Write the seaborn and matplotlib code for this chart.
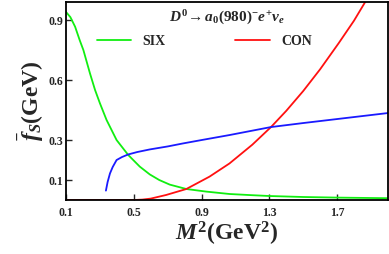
import pandas as pd
import matplotlib
matplotlib.use('Agg')
import matplotlib.pyplot as plt
import seaborn as sns

# --------------------
# Data
# --------------------
six_x = [0.10, 0.125, 0.153, 0.18, 0.202, 0.22, 0.241, 0.271, 0.30, 0.339, 0.398, 0.467,
         0.535, 0.594, 0.65, 0.712, 0.81, 0.928, 1.065, 1.20, 1.30, 1.50, 1.70, 2.00]
six_y = [0.94, 0.915, 0.867, 0.80, 0.75, 0.696, 0.633, 0.55, 0.483, 0.40, 0.30, 0.225,
         0.167, 0.128, 0.10, 0.077, 0.055, 0.042, 0.030, 0.024, 0.020, 0.015, 0.012, 0.009]

con_x = [0.10, 0.50, 0.55, 0.60, 0.69, 0.81, 0.947, 1.065, 1.20, 1.31, 1.40, 1.50,
         1.60, 1.71, 1.80, 1.88]
con_y = [0.0, 0.0, 0.002, 0.007, 0.025, 0.055, 0.117, 0.183, 0.277, 0.365, 0.446, 0.545,
         0.654, 0.785, 0.897, 1.01]

blue_x = [0.335, 0.345, 0.359, 0.375, 0.398, 0.43, 0.467, 0.52, 0.594, 0.70, 0.79, 0.90,
          1.065, 1.31, 1.50, 1.70, 2.00]
blue_y = [0.047, 0.09, 0.133, 0.165, 0.20, 0.215, 0.228, 0.24, 0.253, 0.268, 0.283, 0.30,
          0.325, 0.365, 0.385, 0.405, 0.435]

x_ticks = [0.1, 0.5, 0.9, 1.3, 1.7]
y_ticks = [0.1, 0.3, 0.6, 0.9]

df_six = pd.DataFrame({'M2': six_x, 'fS': six_y})
df_con = pd.DataFrame({'M2': con_x, 'fS': con_y})
df_blue = pd.DataFrame({'M2': blue_x, 'fS': blue_y})

# --------------------
# Style
# --------------------
sns.set_style('ticks')
plt.rcParams['font.family'] = ['Liberation Serif', 'DejaVu Serif']
plt.rcParams['font.weight'] = 'bold'
plt.rcParams['mathtext.fontset'] = 'custom'
plt.rcParams['mathtext.rm'] = 'Liberation Serif:bold'
plt.rcParams['mathtext.it'] = 'Liberation Serif:bold:italic'
plt.rcParams['mathtext.bf'] = 'Liberation Serif:bold'

fig = plt.figure(figsize=(3.89, 2.54), dpi=100)
ax = fig.add_axes([0.170, 0.2126, 0.827, 0.779])

sns.lineplot(data=df_six, x='M2', y='fS', ax=ax, color='#11ee11', lw=1.3, label='SIX')
sns.lineplot(data=df_con, x='M2', y='fS', ax=ax, color='#ff1010', lw=1.3, label='CON')
sns.lineplot(data=df_blue, x='M2', y='fS', ax=ax, color='#1a1aff', lw=1.3)

ax.set_xlim(0.1, 2.0)
ax.set_ylim(0.0, 0.99)
ax.set_xticks(x_ticks)
ax.set_xticklabels([str(t) for t in x_ticks], fontweight='bold')
ax.set_yticks(y_ticks)
ax.set_yticklabels([str(t) for t in y_ticks], fontweight='bold')
ax.tick_params(direction='in', length=4, width=1.0, labelsize=8.5)
ax.tick_params(axis='x', pad=5)
ax.tick_params(axis='y', pad=2)
for s in ax.spines.values():
    s.set_linewidth(1.3)
    s.set_color('black')

ax.set_xlabel(r'$M^2$(GeV$^2$)', fontsize=17, fontweight='bold', labelpad=1)
ax.set_ylabel(r'$\bar{f}_S$(GeV)', fontsize=17, fontweight='bold', labelpad=2)

ax.text(0.50, 0.92, r'$D^0\!\rightarrow a_0(980)^{-}e^{+}\nu_e$', transform=ax.transAxes,
        ha='center', va='center', fontsize=11)

ax.legend(ncol=2, loc='center left', bbox_to_anchor=(0.095, 0.80), frameon=False,
          prop={'weight': 'bold', 'size': 10}, handlelength=2.5, handletextpad=0.8,
          columnspacing=5.0, borderpad=0, borderaxespad=0)

plt.savefig('out.png', dpi=100)
